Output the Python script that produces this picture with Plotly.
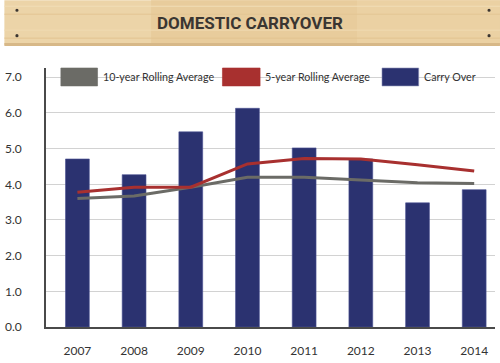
import plotly.graph_objects as go

years = [2007, 2008, 2009, 2010, 2011, 2012, 2013, 2014]
carry_over = [4.71, 4.27, 5.47, 6.13, 5.02, 4.71, 3.48, 3.85]
avg_10yr = [3.60, 3.67, 3.92, 4.20, 4.20, 4.11, 4.04, 4.02]
avg_5yr = [3.78, 3.92, 3.92, 4.57, 4.72, 4.71, 4.55, 4.37]
y_ticks = [0, 1, 2, 3, 4, 5, 6, 7]
y_tick_labels = ["0.0", "1.0", "2.0", "3.0", "4.0", "5.0", "6.0", "7.0"]
title_text = "DOMESTIC CARRYOVER"
legend_names = ["10-year Rolling Average", "5-year Rolling Average", "Carry Over"]

W, H = 500, 363
L, R, T, B = 42, 5, 68, 35
PW, PH = W - L - R, H - T - B

NAVY = "#2b3270"
GRAY = "#6b6b66"
RED = "#a8302f"
TEXT = "#333333"

def px(x):
    return (x - L) / PW

def py(y):
    return (H - B - y) / PH

fig = go.Figure()
fig.add_trace(go.Bar(x=years, y=carry_over, width=0.42, marker=dict(color=NAVY, line=dict(color="#4a5092", width=0.6)),
                     name=legend_names[2], showlegend=False))
fig.add_trace(go.Scatter(x=years, y=avg_10yr, mode="lines", line=dict(color=GRAY, width=3),
                         name=legend_names[0], showlegend=False))
fig.add_trace(go.Scatter(x=years, y=avg_5yr, mode="lines", line=dict(color=RED, width=3),
                         name=legend_names[1], showlegend=False))

shapes = []
annotations = []

# banner (wood plank)
shapes.append(dict(type="rect", xref="paper", yref="paper", x0=px(0), x1=px(500), y0=py(45), y1=py(0),
                   fillcolor="#ecd4a8", line=dict(width=0), layer="below"))
shapes.append(dict(type="rect", xref="paper", yref="paper", x0=px(148), x1=px(356), y0=py(45), y1=py(0),
                   fillcolor="#e8cc9c", line=dict(width=0), layer="below"))
shapes.append(dict(type="rect", xref="paper", yref="paper", x0=px(356), x1=px(500), y0=py(45), y1=py(0),
                   fillcolor="#ebd1a3", line=dict(width=0), layer="below"))
for yy, col in [(6, "#f1ddb6"), (14, "#e3c594"), (30, "#f0dab2"), (38, "#e2c391")]:
    shapes.append(dict(type="line", xref="paper", yref="paper", x0=px(0), x1=px(500), y0=py(yy), y1=py(yy),
                       line=dict(color=col, width=1), layer="below"))
shapes.append(dict(type="rect", xref="paper", yref="paper", x0=px(0), x1=px(500), y0=py(46), y1=py(43),
                   fillcolor="#d7b888", line=dict(width=0), layer="below"))
for nx, ny in [(12.7, 10), (12.7, 35.5), (489, 10), (489, 35.5)]:
    shapes.append(dict(type="circle", xref="paper", yref="paper", x0=px(nx - 1.6), x1=px(nx + 1.6),
                       y0=py(ny + 1.6), y1=py(ny - 1.6), fillcolor="#3b3530", line=dict(width=0)))
annotations.append(dict(text="<b>" + title_text + "</b>", xref="paper", yref="paper", x=px(248), y=py(22.5),
                        xanchor="center", yanchor="middle", showarrow=False,
                        font=dict(family="Roboto", size=17, color="#3a3632")))

# manual legend with box swatches
legend_items = [(57, 94, 97, GRAY, legend_names[0]), (220, 258, 261, RED, legend_names[1]),
                (381, 418, 421, NAVY, legend_names[2])]
for x0, x1, tx, col, name in legend_items:
    shapes.append(dict(type="rect", xref="paper", yref="paper", x0=px(x0), x1=px(x1), y0=py(86), y1=py(68),
                       fillcolor=col, line=dict(color="#8a8fb5" if col == NAVY else col, width=0.6)))
    annotations.append(dict(text=name, xref="paper", yref="paper", x=px(tx), y=py(77), xanchor="left",
                            yanchor="middle", showarrow=False, font=dict(family="Lato", size=10.7, color=TEXT)))

fig.update_layout(
    width=W, height=H,
    margin=dict(l=L, r=R, t=T, b=B, pad=0),
    paper_bgcolor="white", plot_bgcolor="white",
    showlegend=False,
    shapes=shapes, annotations=annotations,
    bargap=0.5,
    xaxis=dict(range=[2006.446, 2014.367], tickmode="array", tickvals=years, ticktext=[str(y) for y in years],
               showgrid=False, zeroline=False, showline=True, linecolor="#4a4a4a", linewidth=1.5,
               ticks="", ticklabelstandoff=12, tickfont=dict(family="Lato", size=12, color=TEXT), fixedrange=True),
    yaxis=dict(range=[0, 7.26], tickmode="array", tickvals=y_ticks, ticktext=y_tick_labels,
               showgrid=True, gridcolor="#d2d2d2", gridwidth=1, zeroline=False,
               showline=True, linecolor="#4a4a4a", linewidth=1.5, ticks="",
               ticklabelposition="outside", ticklabelstandoff=20,
               tickfont=dict(family="Lato", size=12, color=TEXT), fixedrange=True),
)

fig.write_html("out.html", config={"displayModeBar": False},
               post_script="document.body.style.margin='0';document.body.style.padding='0';")
